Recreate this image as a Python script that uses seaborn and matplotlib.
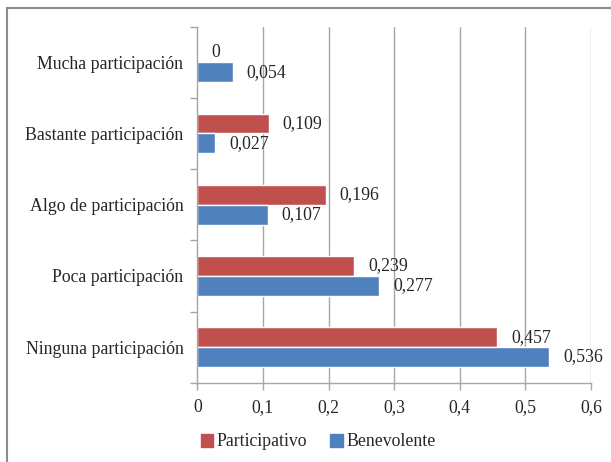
import matplotlib
matplotlib.use("Agg")
import matplotlib.pyplot as plt
from matplotlib.patches import Rectangle
import seaborn as sns
import pandas as pd

categories = ["Mucha participación", "Bastante participación", "Algo de participación",
              "Poca participación", "Ninguna participación"]
participativo = [0.0, 0.109, 0.196, 0.239, 0.457]
benevolente = [0.054, 0.027, 0.107, 0.277, 0.536]
series_names = ["Participativo", "Benevolente"]
x_ticks = [0, 0.1, 0.2, 0.3, 0.4, 0.5, 0.6]
x_tick_labels = ["0", "0,1", "0,2", "0,3", "0,4", "0,5", "0,6"]

df = pd.DataFrame({
    "categoria": categories * 2,
    "valor": participativo + benevolente,
    "estilo": [series_names[0]] * len(categories) + [series_names[1]] * len(categories),
})

sns.set_theme(style="white")
plt.rcParams["font.family"] = ["Liberation Serif", "DejaVu Serif"]
text_color = "#262626"
grid_color = "#a6a6a6"
fs = 12.8

W, H = 611, 462
fig = plt.figure(figsize=(W / 100, H / 100), dpi=100)
left, right, top, bottom = 197.3, 591.0, 26.7, 382.7
ax = fig.add_axes([left / W, 1 - bottom / H, (right - left) / W, (bottom - top) / H])

palette = {"Participativo": "#C0504D", "Benevolente": "#4F81BD"}
sns.barplot(data=df, x="valor", y="categoria", hue="estilo", order=categories,
            hue_order=series_names, palette=palette, orient="h", width=0.56,
            saturation=1, legend=False, ax=ax)

def fmt(v):
    return f"{v:g}".replace(".", ",")

for cont, vals in zip(ax.containers, [participativo, benevolente]):
    ax.bar_label(cont, labels=[fmt(v) for v in vals], padding=10,
                 fontsize=fs, color=text_color)

ax.set_xlim(0, 0.6)
ax.set_ylim(len(categories) - 0.5, -0.5)
ax.set_xticks(x_ticks)
ax.set_xticklabels(x_tick_labels)
ax.set_yticks(range(len(categories)))
ax.set_yticklabels(categories)
ax.set_yticks([i - 0.5 for i in range(len(categories) + 1)], minor=True)
ax.tick_params(axis="y", which="major", length=0, pad=10, labelsize=fs, labelcolor=text_color)
ax.tick_params(axis="y", which="minor", left=True, length=5, width=1, color=grid_color)
ax.tick_params(axis="x", bottom=True, length=5, width=1, color=grid_color, pad=7,
               labelsize=fs, labelcolor=text_color)
ax.set_xlabel("")
ax.set_ylabel("")

for x in x_ticks[1:]:
    ax.axvline(x, color=grid_color, lw=1, zorder=0)
for side in ["top", "right"]:
    ax.spines[side].set_visible(False)
for side in ["left", "bottom"]:
    ax.spines[side].set_color(grid_color)
    ax.spines[side].set_linewidth(1)
ax.set_axisbelow(True)

handles = [Rectangle((0, 0), 1, 1, color=palette[n]) for n in series_names]
fig.legend(handles, series_names, loc="center", bbox_to_anchor=(318 / W, 1 - 442 / H),
           ncol=2, frameon=False, handlelength=0.7, handleheight=0.7,
           handletextpad=0.2, columnspacing=1.3, fontsize=fs, labelcolor=text_color)

# outer frame
fig.patches.append(Rectangle((7.5 / W, -0.1), 1.2, 1 - 8 / H + 0.1, transform=fig.transFigure,
                             fill=False, edgecolor="#8c8c8c", lw=1.5))

fig.savefig("out.png", dpi=100)
